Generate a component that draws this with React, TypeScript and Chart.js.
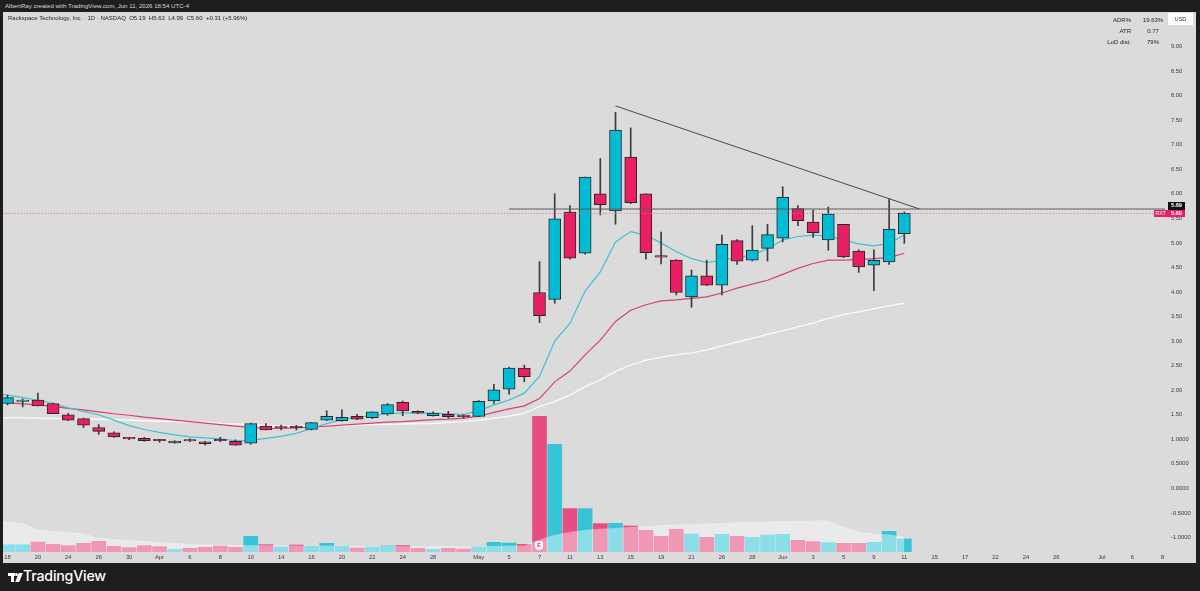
import React, { useEffect, useRef } from "react";
import { Chart, registerables } from "chart.js";

Chart.register(...registerables);

// ---------- data (index 0 = Mar 18, 1 bar per trading day) ----------
const xTickIdx = [0, 2, 4, 6, 8, 10, 12, 14, 16, 18, 20, 22, 24, 26, 28, 31, 33, 35, 37, 39, 41, 43, 45, 47, 49, 51, 53, 55, 57, 59, 61, 63, 65, 67, 69, 72, 74, 76];
const xTickLabels = ["18", "20", "24", "26", "30", "Apr", "6", "8", "10", "14", "16", "20", "22", "24", "28", "May", "5", "7", "11", "13", "15", "19", "21", "26", "28", "Jun", "3", "5", "9", "11", "15", "17", "22", "24", "26", "Jul", "6", "8"];

const openP = [1.73, 1.77, 1.80, 1.73, 1.50, 1.42, 1.24, 1.13, 1.02, 1.02, 0.975, 0.925, 0.97, 0.95, 0.975, 0.96, 0.92, 1.27, 1.26, 1.24, 1.20, 1.39, 1.38, 1.47, 1.44, 1.515, 1.754, 1.57, 1.48, 1.51, 1.495, 1.468, 1.78, 2.02, 2.45, 3.99, 3.85, 5.63, 4.79, 6.00, 5.65, 6.75, 6.00, 4.715, 4.65, 3.90, 4.33, 4.14, 5.045, 4.65, 4.89, 5.094, 5.697, 5.426, 5.059, 5.379, 4.835, 4.544, 4.611, 5.19];
const highP = [1.90, 1.82, 1.94, 1.74, 1.53, 1.43, 1.30, 1.15, 1.04, 1.04, 1.00, 0.97, 1.01, 0.96, 1.04, 0.99, 1.33, 1.32, 1.29, 1.285, 1.34, 1.58, 1.60, 1.51, 1.56, 1.73, 1.78, 1.58, 1.56, 1.57, 1.50, 1.79, 2.12, 2.47, 2.51, 4.62, 6.00, 5.76, 6.34, 6.72, 7.66, 7.34, 6.00, 5.22, 4.66, 4.45, 4.645, 5.16, 5.07, 5.35, 5.38, 6.145, 5.758, 5.664, 5.73, 5.38, 4.86, 4.86, 5.894, 5.63];
const lowP = [1.70, 1.66, 1.68, 1.52, 1.38, 1.24, 1.10, 1.04, 0.99, 0.96, 0.94, 0.92, 0.95, 0.88, 0.95, 0.88, 0.90, 1.19, 1.19, 1.19, 1.19, 1.38, 1.37, 1.40, 1.42, 1.49, 1.48, 1.52, 1.47, 1.43, 1.43, 1.46, 1.73, 1.92, 2.17, 3.375, 3.77, 4.67, 4.77, 5.57, 5.38, 5.80, 4.67, 4.57, 3.94, 3.69, 4.13, 3.94, 4.56, 4.63, 4.63, 5.02, 5.35, 5.11, 4.85, 4.70, 4.40, 4.026, 4.56, 4.99];
const closeP = [1.85, 1.78, 1.68, 1.52, 1.39, 1.29, 1.16, 1.05, 1.01, 0.97, 0.97, 0.965, 0.965, 0.91, 0.97, 0.88, 1.32, 1.19, 1.23, 1.235, 1.34, 1.47, 1.45, 1.41, 1.56, 1.705, 1.576, 1.53, 1.536, 1.46, 1.46, 1.774, 2.01, 2.45, 2.275, 3.52, 5.49, 4.69, 6.34, 5.78, 7.30, 5.82, 4.80, 4.71, 3.99, 4.33, 4.14, 4.97, 4.63, 4.855, 5.167, 5.929, 5.452, 5.21, 5.589, 4.713, 4.509, 4.646, 5.283, 5.60];

// volume in millions
const volume = [1.46, 1.46, 2.0, 1.54, 1.28, 1.74, 2.14, 1.14, 0.88, 1.28, 1.08, 0.54, 0.74, 0.94, 1.2, 0.94, 3.14, 1.46, 1.0, 1.4, 1.14, 1.74, 1.14, 0.8, 1.0, 1.2, 1.28, 0.74, 0.54, 0.74, 0.6, 1.0, 1.94, 1.8, 1.54, 27.14, 21.54, 8.68, 8.68, 5.68, 5.74, 5.2, 4.34, 3.14, 4.54, 3.6, 2.94, 3.54, 3.14, 2.94, 3.4, 3.54, 2.34, 2.08, 1.88, 1.74, 1.74, 1.94, 4.14, 2.6];
const volUp = [1, 1, 0, 0, 0, 0, 0, 0, 0, 0, 0, 1, 0, 0, 0, 0, 1, 0, 1, 0, 1, 1, 1, 0, 1, 1, 0, 0, 1, 0, 0, 1, 1, 1, 0, 0, 1, 0, 1, 0, 1, 0, 0, 0, 0, 1, 0, 1, 0, 1, 1, 1, 0, 0, 1, 0, 0, 1, 1, 1];

// moving averages, first value is the bar before Mar 18 (index -1)
const MA_START = -1;
const maFast = [1.93, 1.90, 1.85, 1.80, 1.73, 1.64, 1.57, 1.50, 1.39, 1.28, 1.20, 1.14, 1.09, 1.05, 1.03, 1.01, 0.97, 0.98, 1.02, 1.06, 1.12, 1.22, 1.32, 1.40, 1.45, 1.48, 1.52, 1.54, 1.54, 1.53, 1.52, 1.51, 1.58, 1.70, 1.80, 1.94, 2.28, 3.00, 3.36, 4.02, 4.41, 5.02, 5.23, 5.16, 5.00, 4.82, 4.68, 4.60, 4.65, 4.70, 4.75, 4.88, 5.06, 5.13, 5.16, 5.14, 5.06, 4.98, 4.94, 4.99, 5.16];
const maMid = [1.77, 1.745, 1.72, 1.70, 1.67, 1.63, 1.60, 1.56, 1.52, 1.49, 1.45, 1.42, 1.39, 1.36, 1.33, 1.30, 1.27, 1.24, 1.22, 1.22, 1.23, 1.25, 1.27, 1.29, 1.31, 1.33, 1.35, 1.36, 1.38, 1.40, 1.41, 1.43, 1.47, 1.55, 1.62, 1.68, 1.83, 2.17, 2.39, 2.72, 3.02, 3.40, 3.63, 3.74, 3.82, 3.84, 3.87, 3.90, 3.98, 4.08, 4.16, 4.24, 4.36, 4.48, 4.58, 4.65, 4.65, 4.66, 4.68, 4.70, 4.79];
const maSlow = [1.44, 1.44, 1.44, 1.43, 1.43, 1.42, 1.42, 1.41, 1.40, 1.39, 1.38, 1.37, 1.36, 1.35, 1.34, 1.32, 1.31, 1.30, 1.28, 1.27, 1.27, 1.27, 1.28, 1.28, 1.29, 1.30, 1.30, 1.31, 1.32, 1.32, 1.34, 1.36, 1.39, 1.43, 1.47, 1.53, 1.665, 1.77, 1.90, 2.07, 2.21, 2.38, 2.51, 2.61, 2.67, 2.72, 2.76, 2.82, 2.90, 2.98, 3.06, 3.14, 3.21, 3.29, 3.37, 3.46, 3.54, 3.60, 3.66, 3.72, 3.77];
const volMA = [6.4, 6.1, 5.8, 4.5, 4.2, 4.0, 3.68, 2.84, 2.6, 2.4, 2.2, 1.96, 1.8, 1.6, 1.5, 1.44, 1.4, 1.36, 1.34, 1.32, 1.3, 1.28, 1.26, 1.24, 1.22, 1.2, 1.18, 1.16, 1.14, 1.14, 1.14, 1.14, 1.16, 1.2, 1.26, 1.32, 2.5, 3.4, 4.0, 4.4, 4.66, 4.8, 5.0, 5.2, 5.34, 5.5, 5.6, 5.7, 5.8, 5.94, 6.0, 6.1, 6.2, 6.26, 6.32, 6.34, 5.0, 4.1, 3.66, 3.5, 3.0];

const yTicks = [-1, -0.5, 0, 0.5, 1, 1.5, 2, 2.5, 3, 3.5, 4, 4.5, 5, 5.5, 6, 6.5, 7, 7.5, 8, 8.5, 9];
const hLinePrice = 5.69;
const hLineFrom = 33;
const lastClose = 5.6;
const trendFrom = { x: 40, y: 7.79 };
const trendTo = { x: 60, y: 5.69 };

// axis ranges
const X_MIN = -0.296;
const X_MAX = 76.15;
const Y_MIN = -1.2953;
const Y_MAX = 9.7026;
const VOL_MAX = 108;

const UP = "#00bcd4";
const DOWN = "#e91e63";
const FONT = "'Liberation Sans', Arial, sans-serif";

function PriceChart() {
  const ref = useRef<HTMLCanvasElement | null>(null);
  useEffect(() => {
    if (!ref.current) return;
    const idx = openP.map((_, i) => i);
    const maPts = (arr: number[]) => arr.map((v, k) => ({ x: k + MA_START, y: v }));
    const chart = new Chart(ref.current, {
      type: "bar",
      data: {
        datasets: [
          {
            type: "line",
            data: [trendFrom, trendTo],
            borderColor: "#474747",
            borderWidth: 1,
            pointRadius: 0,
            order: 0,
          } as any,
          {
            type: "line",
            data: [{ x: hLineFrom, y: hLinePrice }, { x: X_MAX + 1, y: hLinePrice }],
            borderColor: "#5a5a5a",
            borderWidth: 1,
            pointRadius: 0,
            order: 0,
          } as any,
          {
            type: "line",
            data: [{ x: X_MIN - 1, y: lastClose }, { x: X_MAX + 1, y: lastClose }],
            borderColor: "#e0648a",
            borderWidth: 1,
            borderDash: [1, 2],
            pointRadius: 0,
            order: 0,
          } as any,
          {
            data: idx.map((i) => ({ x: i, y: [openP[i], closeP[i]] })),
            backgroundColor: idx.map((i) => (closeP[i] >= openP[i] ? UP : DOWN)),
            borderColor: "#262626",
            borderWidth: 1,
            borderSkipped: false,
            barThickness: 12,
            minBarLength: 1.5,
            grouped: false,
            order: 1,
          } as any,
          {
            data: idx.map((i) => ({ x: i, y: [lowP[i], highP[i]] })),
            backgroundColor: "#3c3c3c",
            borderWidth: 0,
            barThickness: 1,
            grouped: false,
            order: 2,
          } as any,
          {
            type: "line",
            data: maPts(maFast),
            borderColor: "#3fc0d2",
            borderWidth: 1.2,
            pointRadius: 0,
            order: 6,
          } as any,
          {
            type: "line",
            data: maPts(maMid),
            borderColor: "#d9406f",
            borderWidth: 1.2,
            pointRadius: 0,
            order: 7,
          } as any,
          {
            type: "line",
            data: maPts(maSlow),
            borderColor: "#f8f8f8",
            borderWidth: 1.5,
            pointRadius: 0,
            order: 8,
          } as any,
          {
            type: "line",
            data: maPts(volMA),
            yAxisID: "yVol",
            borderWidth: 0,
            pointRadius: 0,
            fill: "origin",
            backgroundColor: "rgba(255,255,255,0.42)",
            order: 9,
          } as any,
          {
            data: idx.map((i) => ({ x: i, y: volume[i] })),
            yAxisID: "yVol",
            backgroundColor: idx.map((i) => (volUp[i] ? "rgba(0,188,212,0.75)" : "rgba(233,30,99,0.75)")),
            borderWidth: 0,
            barThickness: 14,
            grouped: false,
            order: 10,
          } as any,
        ],
      },
      options: {
        animation: false,
        responsive: true,
        maintainAspectRatio: false,
        events: [],
        layout: { padding: 0 },
        plugins: { legend: { display: false }, tooltip: { enabled: false } },
        scales: {
          x: {
            type: "linear",
            min: X_MIN,
            max: X_MAX,
            offset: false,
            grid: { display: false, drawTicks: false },
            border: { display: false },
            ticks: {
              autoSkip: false,
              maxRotation: 0,
              padding: 2,
              color: "#3a3a3a",
              font: { size: 5.8, family: FONT },
              callback: (_v: any, i: number) => xTickLabels[i],
            },
            afterBuildTicks: (s: any) => {
              s.ticks = xTickIdx.map((v) => ({ value: v }));
            },
            afterFit: (s: any) => {
              s.height = 11;
              s.paddingLeft = 0;
              s.paddingRight = 0;
            },
          },
          y: {
            type: "linear",
            position: "right",
            min: Y_MIN,
            max: Y_MAX,
            grid: { display: false, drawTicks: false },
            border: { display: false },
            ticks: {
              crossAlign: "near",
              padding: 6,
              color: "#3a3a3a",
              font: { size: 5.8, family: FONT },
              callback: (v: any) => (Number(v) >= 1.5 ? Number(v).toFixed(2) : Number(v).toFixed(4)),
            },
            afterBuildTicks: (s: any) => {
              s.ticks = yTicks.map((v) => ({ value: v }));
            },
            afterFit: (s: any) => {
              s.width = 31;
              s.paddingTop = 0;
              s.paddingBottom = 0;
            },
          },
          yVol: { type: "linear", display: false, min: 0, max: VOL_MAX },
        },
      } as any,
    });
    return () => chart.destroy();
  }, []);
  return <canvas ref={ref} />;
}

const abs = (o: React.CSSProperties): React.CSSProperties => ({ position: "absolute", ...o });

export default function App() {
  return (
    <div style={{ position: "fixed", left: 0, top: 0, width: 1200, height: 591, background: "#1e1e1e", overflow: "hidden", fontFamily: FONT }}>
      <div style={abs({ left: 5, top: 1.5, fontSize: 6.1, color: "#d6d6d6", whiteSpace: "nowrap" })}>
        AlbertRay created with TradingView.com, Jun 11, 2026 18:54 UTC-4
      </div>
      <div style={abs({ left: 3, top: 12, width: 1193, height: 551, background: "#dbdbdb" })}>
        <div style={abs({ left: 0, top: 0, width: 1193, height: 551 })}>
          <PriceChart />
        </div>
        <div style={abs({ left: 5, top: 3, fontSize: 6.0, color: "#1c1c1c", whiteSpace: "nowrap" })}>
          Rackspace Technology, Inc. · 1D · NASDAQ&nbsp;&nbsp;O5.19&nbsp;&nbsp;H5.63&nbsp;&nbsp;L4.99&nbsp;&nbsp;C5.60&nbsp;&nbsp;+0.31 (+5.96%)
        </div>
        {[
          ["ADR%", "19.63%"],
          ["ATR", "0.77"],
          ["LoD dist.", "79%"],
        ].map((r, k) => (
          <div key={k} style={abs({ left: 1095, top: 5 + k * 11, width: 70, height: 10, fontSize: 6.0, color: "#1c1c1c", whiteSpace: "nowrap" })}>
            <span style={abs({ right: 37, top: 0, textAlign: "right" })}>{r[0]}</span>
            <span style={abs({ left: 42, width: 26, top: 0, textAlign: "center" })}>{r[1]}</span>
          </div>
        ))}
        <div style={abs({ left: 1165, top: 1, width: 25, height: 12, background: "#ffffff", fontSize: 5.6, color: "#333", textAlign: "center", lineHeight: "12px" })}>USD</div>
        <div style={abs({ left: 1165, top: 190, width: 17, height: 7.5, background: "#111", color: "#fff", fontSize: 5.6, textAlign: "center", lineHeight: "7.5px", fontWeight: 700 })}>5.69</div>
        <div style={abs({ left: 1151, top: 198, width: 13.5, height: 7, background: DOWN, color: "#fff", fontSize: 5.2, textAlign: "center", lineHeight: "7px" })}>RXT</div>
        <div style={abs({ left: 1165, top: 198, width: 17, height: 7, background: DOWN, color: "#fff", fontSize: 5.6, textAlign: "center", lineHeight: "7px", fontWeight: 700 })}>5.60</div>
        <div style={abs({ left: 532, top: 529, width: 8, height: 8.5, background: "#fff", borderRadius: "2px 2px 4px 4px", color: DOWN, fontSize: 5.5, fontWeight: 700, textAlign: "center", lineHeight: "8.5px" })}>E</div>
      </div>
      <div style={abs({ left: 8, top: 573, width: 6.5, height: 3, background: "#fff" })} />
      <div style={abs({ left: 10.5, top: 573, width: 3, height: 9, background: "#fff" })} />
      <div style={abs({ left: 14.5, top: 573, width: 3, height: 3, background: "#fff", borderRadius: "50%" })} />
      <div style={abs({ left: 17, top: 573, width: 4, height: 9, background: "#fff", transform: "skewX(-22deg)" })} />
      <div style={abs({ left: 23, top: 567, fontSize: 14.2, color: "#fff", fontFamily: "Inter, 'Noto Sans', sans-serif", fontWeight: 500, letterSpacing: -0.2, whiteSpace: "nowrap" })}>
        TradingView
      </div>
    </div>
  );
}
